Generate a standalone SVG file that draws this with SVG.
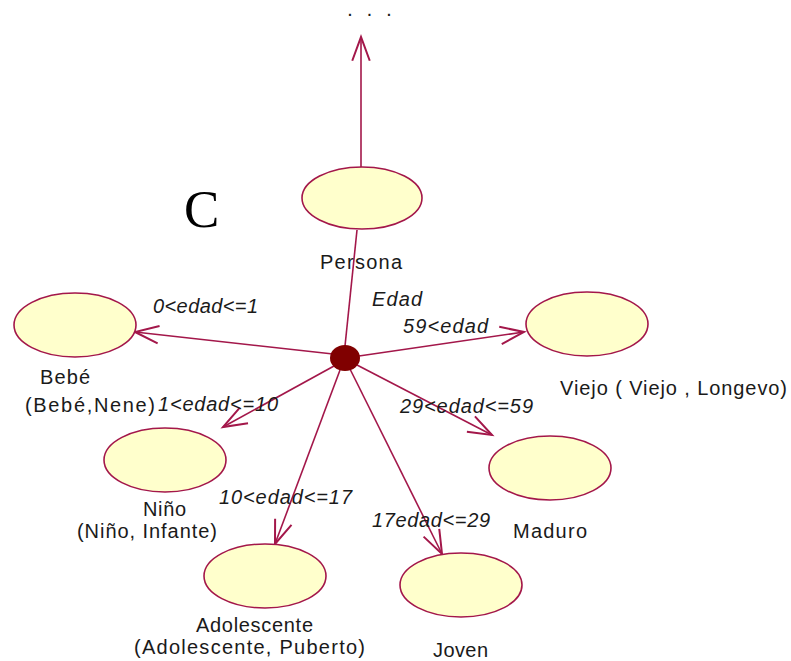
<svg xmlns="http://www.w3.org/2000/svg" width="791" height="661" viewBox="0 0 791 661">
  <style>
    .uc { fill: #ffffcc; stroke: #a3174a; stroke-width: 1.6; }
    .edge { stroke: #a3174a; stroke-width: 1.6; fill: none; }
    .lbl { font-family: "Liberation Sans", Arial, sans-serif; font-size: 20px; fill: #1a1a1a; }
    .cond { font-family: "Liberation Sans", Arial, sans-serif; font-size: 20px; font-style: italic; fill: #1a1a1a; }
  </style>
  <defs>
    <marker id="open" markerUnits="userSpaceOnUse" markerWidth="30" markerHeight="30" refX="0" refY="0" viewBox="-22 -11 24 22" orient="auto" overflow="visible">
      <path d="M-19,-7 L0,0 L-19,7" fill="none" stroke="#a3174a" stroke-width="1.6"/>
    </marker>
  </defs>
  <rect width="791" height="661" fill="#ffffff"/>

  <!-- big letter -->
  <text x="184" y="227" font-family="Liberation Serif, 'Times New Roman', serif" font-size="53" fill="#000">C</text>

  <!-- ellipsis above the parent -->
  <text x="348" y="16" font-family="Liberation Sans, Arial, sans-serif" font-size="14" font-weight="bold" fill="#1a1a1a" textLength="43" lengthAdjust="spacing">...</text>

  <!-- connectors -->
  <g id="connectors">
    <line class="edge" x1="361" y1="167" x2="361" y2="37" marker-end="url(#open)"/>
    <line class="edge" x1="357" y1="230" x2="345" y2="346"/>
    <line class="edge" x1="333" y1="354" x2="135" y2="332" marker-end="url(#open)"/>
    <line class="edge" x1="359" y1="356" x2="524" y2="332" marker-end="url(#open)"/>
    <line class="edge" x1="334" y1="366" x2="223" y2="427" marker-end="url(#open)"/>
    <line class="edge" x1="340" y1="370" x2="275" y2="544" marker-end="url(#open)"/>
    <line class="edge" x1="350" y1="369" x2="442" y2="554" marker-end="url(#open)"/>
    <line class="edge" x1="357" y1="365" x2="492" y2="435" marker-end="url(#open)"/>
    <ellipse cx="345" cy="358" rx="15" ry="13" fill="#800000"/>
    <text class="cond" x="372" y="306" textLength="50" lengthAdjust="spacing">Edad</text>
    <text class="cond" x="153" y="313" textLength="105" lengthAdjust="spacing">0&lt;edad&lt;=1</text>
    <text class="cond" x="403" y="333" textLength="85" lengthAdjust="spacing">59&lt;edad</text>
    <text class="cond" x="158" y="411" textLength="120" lengthAdjust="spacing">1&lt;edad&lt;=10</text>
    <text class="cond" x="400" y="413" textLength="133" lengthAdjust="spacing">29&lt;edad&lt;=59</text>
    <text class="cond" x="219" y="504" textLength="133" lengthAdjust="spacing">10&lt;edad&lt;=17</text>
    <text class="cond" x="372" y="527" textLength="118" lengthAdjust="spacing">17edad&lt;=29</text>
  </g>

  <g id="persona">
    <ellipse class="uc" cx="362" cy="198" rx="60" ry="31"/>
    <text class="lbl" x="320" y="269" textLength="82" lengthAdjust="spacing">Persona</text>
  </g>
  <g id="bebe">
    <ellipse class="uc" cx="75" cy="325" rx="61" ry="32"/>
    <text class="lbl" x="40" y="384" textLength="50" lengthAdjust="spacing">Bebé</text>
    <text class="lbl" x="25" y="412" textLength="130" lengthAdjust="spacing">(Bebé,Nene)</text>
  </g>
  <g id="viejo">
    <ellipse class="uc" cx="587" cy="324" rx="61" ry="32"/>
    <text class="lbl" x="560" y="395" textLength="227" lengthAdjust="spacing">Viejo ( Viejo , Longevo)</text>
  </g>
  <g id="nino">
    <ellipse class="uc" cx="165" cy="460" rx="61" ry="32"/>
    <text class="lbl" x="143" y="516" textLength="43" lengthAdjust="spacing">Niño</text>
    <text class="lbl" x="77" y="538" textLength="140" lengthAdjust="spacing">(Niño, Infante)</text>
  </g>
  <g id="maduro">
    <ellipse class="uc" cx="550" cy="468" rx="61" ry="32"/>
    <text class="lbl" x="513" y="538" textLength="74" lengthAdjust="spacing">Maduro</text>
  </g>
  <g id="adolescente">
    <ellipse class="uc" cx="265" cy="576" rx="61" ry="32"/>
    <text class="lbl" x="196" y="632" textLength="117" lengthAdjust="spacing">Adolescente</text>
    <text class="lbl" x="134" y="654" textLength="231" lengthAdjust="spacing">(Adolescente, Puberto)</text>
  </g>
  <g id="joven">
    <ellipse class="uc" cx="461" cy="585" rx="61" ry="32"/>
    <text class="lbl" x="433" y="657" textLength="55" lengthAdjust="spacing">Joven</text>
  </g>
</svg>
